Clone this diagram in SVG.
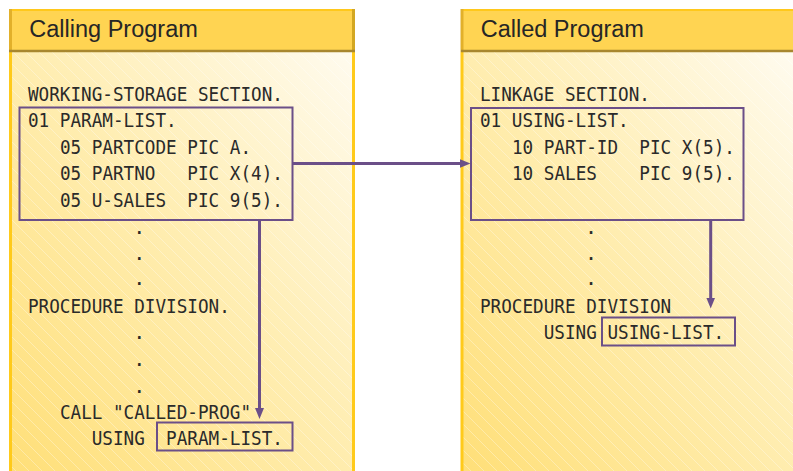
<svg xmlns="http://www.w3.org/2000/svg" width="793" height="471" viewBox="0 0 793 471">
  <defs>
    <linearGradient id="bodyGrad" x1="0" y1="1" x2="1" y2="0">
      <stop offset="0" stop-color="#ffdf78"/>
      <stop offset="0.55" stop-color="#ffeeb4"/>
      <stop offset="1" stop-color="#fffbef"/>
    </linearGradient>
    <pattern id="hatch" patternUnits="userSpaceOnUse" width="13" height="13">
      <path d="M0,0 L13,13 M-1,12 L1,14 M12,-1 L14,1" stroke="#ffffff" stroke-opacity="0.4" stroke-width="0.8" fill="none"/>
    </pattern>
    <marker id="arrow" markerUnits="userSpaceOnUse" markerWidth="12" markerHeight="10" refX="4" refY="5" orient="auto">
      <path d="M0,0.5 L11,5 L0,9.5 z" fill="#6b4f88"/>
    </marker>
    <style>
      .hdr { fill: #ffd452; }
      .hdrTop { stroke: #ffc81c; stroke-width: 2; }
      .hdrLeft { stroke: #e2b02a; stroke-width: 3; }
      .hdrRight { stroke: #d3a722; stroke-width: 3; }
      .hdrBot { stroke: #a8872f; stroke-width: 2.5; }
      .border { stroke: #ffca1a; stroke-width: 3; }
      .title { font-family: "Liberation Sans", Arial, sans-serif; font-size: 23.5px; fill: #262626; }
      .code { font-family: "DejaVu Sans Mono", "Liberation Mono", monospace; font-size: 20px; fill: #2a2a2a; }
      .box { fill: none; stroke: #6b4f88; stroke-width: 2; }
      .conn { fill: none; stroke: #6b4f88; stroke-width: 3; }
    </style>
  </defs>

  <g id="calling-program">
    <rect x="9" y="52" width="346" height="419" fill="url(#bodyGrad)"/>
    <rect x="9" y="52" width="346" height="419" fill="url(#hatch)"/>
    <line class="border" x1="10.5" y1="52" x2="10.5" y2="471"/>
    <line class="border" x1="353.5" y1="52" x2="353.5" y2="471"/>
    <rect class="hdr" x="9" y="9" width="346" height="43"/>
    <line class="hdrTop" x1="9" y1="10" x2="355" y2="10"/>
    <line class="hdrLeft" x1="10.5" y1="9" x2="10.5" y2="52"/>
    <line class="hdrRight" x1="353.5" y1="9" x2="353.5" y2="52"/>
    <line class="hdrBot" x1="9" y1="51" x2="355" y2="51"/>
    <text class="title" x="29.3" y="37.3">Calling Program</text>

    <text class="code" x="28" y="101" textLength="254.9" lengthAdjust="spacingAndGlyphs">WORKING-STORAGE SECTION.</text>
    <text class="code" x="28" y="127" textLength="148.7" lengthAdjust="spacingAndGlyphs">01 PARAM-LIST.</text>
    <text class="code" x="59.9" y="153.5" textLength="116.8" lengthAdjust="spacingAndGlyphs">05 PARTCODE</text>
    <text class="code" x="187.3" y="153.5" textLength="63.7" lengthAdjust="spacingAndGlyphs">PIC A.</text>
    <text class="code" x="59.9" y="180" textLength="95.6" lengthAdjust="spacingAndGlyphs">05 PARTNO</text>
    <text class="code" x="187.3" y="180" textLength="95.6" lengthAdjust="spacingAndGlyphs">PIC X(4).</text>
    <text class="code" x="59.9" y="206.5" textLength="106.2" lengthAdjust="spacingAndGlyphs">05 U-SALES</text>
    <text class="code" x="187.3" y="206.5" textLength="95.6" lengthAdjust="spacingAndGlyphs">PIC 9(5).</text>
    <rect class="box" x="19.5" y="107.5" width="273" height="112.5"/>

    <text class="code" x="139.3" y="233.5" text-anchor="middle">.</text>
    <text class="code" x="139.3" y="259.5" text-anchor="middle">.</text>
    <text class="code" x="139.3" y="285" text-anchor="middle">.</text>
    <text class="code" x="28" y="312.5" textLength="201.8" lengthAdjust="spacingAndGlyphs">PROCEDURE DIVISION.</text>
    <text class="code" x="139.3" y="339" text-anchor="middle">.</text>
    <text class="code" x="139.3" y="365.5" text-anchor="middle">.</text>
    <text class="code" x="139.3" y="392.5" text-anchor="middle">.</text>
    <text class="code" x="59.9" y="419" textLength="191.2" lengthAdjust="spacingAndGlyphs">CALL "CALLED-PROG"</text>
    <text class="code" x="91.7" y="445" textLength="53.1" lengthAdjust="spacingAndGlyphs">USING</text>
    <text class="code" x="166.1" y="445" textLength="116.8" lengthAdjust="spacingAndGlyphs">PARAM-LIST.</text>
    <rect class="box" x="157" y="422.5" width="135.5" height="28"/>
  </g>

  <g id="called-program">
    <rect x="461" y="52" width="332" height="419" fill="url(#bodyGrad)"/>
    <rect x="461" y="52" width="332" height="419" fill="url(#hatch)"/>
    <line class="border" x1="462" y1="52" x2="462" y2="471"/>
    <rect class="hdr" x="461" y="9" width="332" height="43"/>
    <line class="hdrTop" x1="461" y1="10" x2="793" y2="10"/>
    <line class="hdrLeft" x1="462" y1="9" x2="462" y2="52"/>
    <line class="hdrBot" x1="461" y1="51" x2="793" y2="51"/>
    <text class="title" x="480.7" y="37.3">Called Program</text>

    <text class="code" x="480" y="101" textLength="169.9" lengthAdjust="spacingAndGlyphs">LINKAGE SECTION.</text>
    <text class="code" x="480" y="127" textLength="148.7" lengthAdjust="spacingAndGlyphs">01 USING-LIST.</text>
    <text class="code" x="511.9" y="153.5" textLength="106.2" lengthAdjust="spacingAndGlyphs">10 PART-ID</text>
    <text class="code" x="639.3" y="153.5" textLength="95.6" lengthAdjust="spacingAndGlyphs">PIC X(5).</text>
    <text class="code" x="511.9" y="180" textLength="85" lengthAdjust="spacingAndGlyphs">10 SALES</text>
    <text class="code" x="639.3" y="180" textLength="95.6" lengthAdjust="spacingAndGlyphs">PIC 9(5).</text>
    <rect class="box" x="471" y="108" width="272.5" height="112"/>

    <text class="code" x="591" y="233.5" text-anchor="middle">.</text>
    <text class="code" x="591" y="259.5" text-anchor="middle">.</text>
    <text class="code" x="591" y="285" text-anchor="middle">.</text>
    <text class="code" x="480" y="312.5" textLength="191.2" lengthAdjust="spacingAndGlyphs">PROCEDURE DIVISION</text>
    <text class="code" x="543.7" y="338.5" textLength="53.1" lengthAdjust="spacingAndGlyphs">USING</text>
    <text class="code" x="607.4" y="338.5" textLength="116.8" lengthAdjust="spacingAndGlyphs">USING-LIST.</text>
    <rect class="box" x="602" y="317.5" width="133" height="28"/>
  </g>

  <g id="connectors">
    <path class="conn" d="M292.5,163.5 H463.5" marker-end="url(#arrow)"/>
    <path class="conn" d="M259.5,220 V412" marker-end="url(#arrow)"/>
    <path class="conn" d="M710.7,220 V301.5" marker-end="url(#arrow)"/>
  </g>
</svg>
